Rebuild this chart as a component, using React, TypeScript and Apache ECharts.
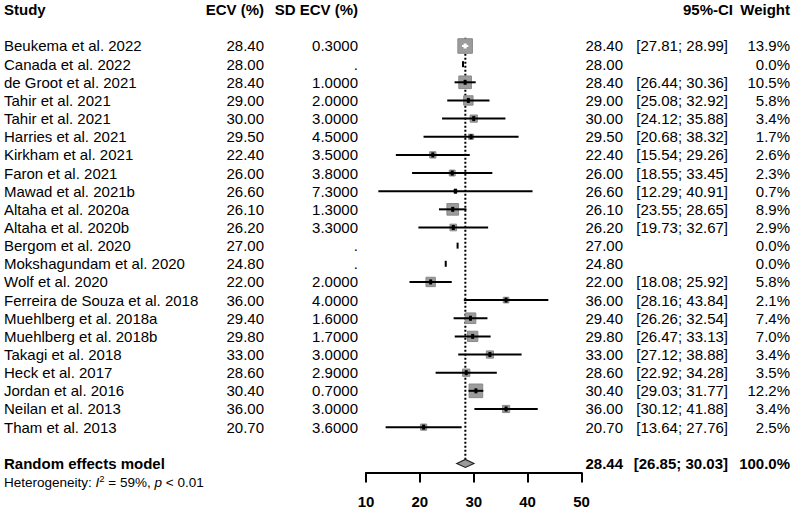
import React, { useEffect, useRef } from 'react';
import * as echarts from 'echarts';

// ---------- data ----------
const studies = [
  'Beukema et al. 2022', 'Canada et al. 2022', 'de Groot et al. 2021', 'Tahir et al. 2021',
  'Tahir et al. 2021', 'Harries et al. 2021', 'Kirkham et al. 2021', 'Faron et al. 2021',
  'Mawad et al. 2021b', 'Altaha et al. 2020a', 'Altaha et al. 2020b', 'Bergom et al. 2020',
  'Mokshagundam et al. 2020', 'Wolf et al. 2020', 'Ferreira de Souza et al. 2018',
  'Muehlberg et al. 2018a', 'Muehlberg et al. 2018b', 'Takagi et al. 2018', 'Heck et al. 2017',
  'Jordan et al. 2016', 'Neilan et al. 2013', 'Tham et al. 2013',
];
const ecv = [28.4, 28.0, 28.4, 29.0, 30.0, 29.5, 22.4, 26.0, 26.6, 26.1, 26.2, 27.0, 24.8, 22.0, 36.0, 29.4, 29.8, 33.0, 28.6, 30.4, 36.0, 20.7];
const sdEcv: (number | null)[] = [0.3, null, 1.0, 2.0, 3.0, 4.5, 3.5, 3.8, 7.3, 1.3, 3.3, null, null, 2.0, 4.0, 1.6, 1.7, 3.0, 2.9, 0.7, 3.0, 3.6];
const ciLow: (number | null)[] = [27.81, null, 26.44, 25.08, 24.12, 20.68, 15.54, 18.55, 12.29, 23.55, 19.73, null, null, 18.08, 28.16, 26.26, 26.47, 27.12, 22.92, 29.03, 30.12, 13.64];
const ciHigh: (number | null)[] = [28.99, null, 30.36, 32.92, 35.88, 38.32, 29.26, 33.45, 40.91, 28.65, 32.67, null, null, 25.92, 43.84, 32.54, 33.13, 38.88, 34.28, 31.77, 41.88, 27.76];
const weights = [13.9, 0.0, 10.5, 5.8, 3.4, 1.7, 2.6, 2.3, 0.7, 8.9, 2.9, 0.0, 0.0, 5.8, 2.1, 7.4, 7.0, 3.4, 3.5, 12.2, 3.4, 2.5];

const pooledLabel = 'Random effects model';
const pooledEst = 28.44;
const pooledLow = 26.85;
const pooledHigh = 30.03;
const pooledWeight = 100.0;
const hetI2 = 59;
const hetP = '< 0.01';

const headers = ['Study', 'ECV (%)', 'SD ECV (%)', '95%-CI', 'Weight'];
const xTicks = [10, 20, 30, 40, 50];

// ---------- layout ----------
const FONT = '"Liberation Sans", Arial, Helvetica, sans-serif';
const FS = 15;
const FIRST_ROW = 0;
const POOLED_ROW = studies.length + 1; // one blank row
const HET_ROW = POOLED_ROW + 1;
const HEADER_ROW = -2;

const COL = {
  study: 4,
  ecvR: 264,
  sdR: 358,
  teR: 623,
  ciR: 728,
  ciHeadR: 733,
  wR: 790,
};

const fmt2 = (v: number) => v.toFixed(2);

function txt(x: number, y: number, text: string, align: string, bold = false, size = FS) {
  return {
    type: 'text',
    x,
    y,
    style: {
      text,
      fill: '#000',
      fontFamily: FONT,
      fontSize: size,
      fontWeight: bold ? 'bold' : 'normal',
      align,
      verticalAlign: 'middle',
    },
  };
}

export default function App() {
  const ref = useRef<HTMLDivElement>(null);

  useEffect(() => {
    if (!ref.current) return;
    const chart = echarts.init(ref.current, null, { renderer: 'svg' });

    const forestData = studies.map((_, i) => {
      const has = ciLow[i] != null ? 1 : 0;
      return [i, ecv[i], ciLow[i] ?? ecv[i], ciHigh[i] ?? ecv[i], weights[i], has];
    });

    const tableData: number[][] = [[HEADER_ROW, 0, 0]];
    studies.forEach((_, i) => tableData.push([i + FIRST_ROW, 1, i]));
    tableData.push([POOLED_ROW, 2, 0]);
    tableData.push([HET_ROW, 3, 0]);

    const option: any = {
      animation: false,
      grid: { left: 366, right: 211.5, top: 9.7, bottom: 37.5, containLabel: false },
      xAxis: {
        type: 'value',
        min: 10,
        max: 50,
        interval: 10,
        splitLine: { show: false },
        axisLine: { show: true, onZero: false, lineStyle: { color: '#000', width: 2 } },
        axisTick: { show: true, inside: false, length: 10, lineStyle: { color: '#000', width: 2 } },
        axisLabel: {
          margin: 21,
          color: '#000',
          fontFamily: FONT,
          fontSize: 15,
          fontWeight: 'bold',
          formatter: (v: number) => (xTicks.includes(v) ? String(v) : ''),
        },
      },
      yAxis: {
        type: 'value',
        inverse: true,
        min: -2,
        max: 23.5,
        show: false,
      },
      series: [
        // dotted line + pooled diamond
        {
          type: 'custom',
          clip: false,
          data: [[POOLED_ROW, pooledEst, pooledLow, pooledHigh]],
          encode: { x: [1, 2, 3], y: 0 },
          renderItem: (params: any, api: any) => {
            const r = api.value(0);
            const c = api.coord([api.value(1), r]);
            const l = api.coord([api.value(2), r]);
            const h = api.coord([api.value(3), r]);
            const top = api.coord([api.value(1), FIRST_ROW - 0.45]);
            const hh = 4;
            return {
              type: 'group',
              children: [
                {
                  type: 'line',
                  shape: { x1: top[0], y1: top[1], x2: c[0], y2: c[1] - hh },
                  style: { stroke: '#000', lineWidth: 2, lineDash: [2, 2] },
                  z2: 0,
                },
                {
                  type: 'polygon',
                  shape: { points: [[l[0], c[1]], [c[0], c[1] - hh], [h[0], c[1]], [c[0], c[1] + hh]] },
                  style: { fill: '#9a9a9a', stroke: '#222', lineWidth: 1.2 },
                  z2: 5,
                },
              ],
            };
          },
          z: 1,
        },
        // study estimates
        {
          type: 'custom',
          clip: false,
          data: forestData,
          encode: { x: [1, 2, 3], y: 0 },
          renderItem: (params: any, api: any) => {
            const r = api.value(0);
            const est = api.value(1);
            const has = api.value(5);
            const p = api.coord([est, r]);
            if (!has) {
              return {
                type: 'rect',
                shape: { x: p[0] - 1, y: p[1] - 3, width: 2, height: 6 },
                style: { fill: '#000' },
              };
            }
            const l = api.coord([api.value(2), r]);
            const h = api.coord([api.value(3), r]);
            const side = 3.9 * Math.sqrt(api.value(4));
            const inside = h[0] - l[0] < side;
            const lineColor = inside ? '#fff' : '#000';
            return {
              type: 'group',
              children: [
                {
                  type: 'rect',
                  shape: { x: p[0] - side / 2, y: p[1] - side / 2, width: side, height: side },
                  style: { fill: '#9c9c9c', stroke: '#8a8a8a', lineWidth: 1 },
                },
                {
                  type: 'line',
                  shape: { x1: l[0], y1: p[1], x2: h[0], y2: p[1] },
                  style: { stroke: lineColor, lineWidth: 2 },
                },
                {
                  type: 'rect',
                  shape: { x: p[0] - 1.5, y: p[1] - 2.5, width: 3, height: 5 },
                  style: { fill: lineColor },
                },
              ],
            };
          },
          z: 3,
        },
        // table text
        {
          type: 'custom',
          clip: false,
          data: tableData,
          encode: { y: 0 },
          renderItem: (params: any, api: any) => {
            const r = api.value(0);
            const kind = api.value(1);
            const i = api.value(2);
            const y = api.coord([10, r])[1];
            if (kind === 0) {
              return {
                type: 'group',
                children: [
                  txt(COL.study, y, headers[0], 'left', true),
                  txt(COL.ecvR, y, headers[1], 'right', true),
                  txt(COL.sdR, y, headers[2], 'right', true),
                  txt(COL.ciHeadR, y, headers[3], 'right', true),
                  txt(COL.wR, y, headers[4], 'right', true),
                ],
              };
            }
            if (kind === 1) {
              const sd = sdEcv[i];
              const lo = ciLow[i];
              const hi = ciHigh[i];
              const children: any[] = [
                txt(COL.study, y, studies[i], 'left'),
                txt(COL.ecvR, y, fmt2(ecv[i]), 'right'),
                txt(COL.sdR, y, sd == null ? '.' : sd.toFixed(4), 'right'),
                txt(COL.teR, y, fmt2(ecv[i]), 'right'),
                txt(COL.wR, y, weights[i].toFixed(1) + '%', 'right'),
              ];
              if (lo != null && hi != null) {
                children.push(txt(COL.ciR, y, `[${fmt2(lo)}; ${fmt2(hi)}]`, 'right'));
              }
              return { type: 'group', children };
            }
            if (kind === 2) {
              return {
                type: 'group',
                children: [
                  txt(COL.study, y, pooledLabel, 'left', true),
                  txt(COL.teR, y, fmt2(pooledEst), 'right', true),
                  txt(COL.ciR, y, `[${fmt2(pooledLow)}; ${fmt2(pooledHigh)}]`, 'right', true),
                  txt(COL.wR, y, pooledWeight.toFixed(1) + '%', 'right', true),
                ],
              };
            }
            return {
              type: 'text',
              x: COL.study,
              y,
              style: {
                text: `{n|Heterogeneity: }{i|I}{s|2}{n| = ${hetI2}%, }{i|p}{n| ${hetP}}`,
                fill: '#000',
                fontFamily: FONT,
                fontSize: 13.5,
                align: 'left',
                verticalAlign: 'middle',
                rich: {
                  n: { fontFamily: FONT, fontSize: 13.5, lineHeight: 16, fill: '#000', verticalAlign: 'bottom' },
                  i: { fontFamily: FONT, fontSize: 13.5, lineHeight: 16, fontStyle: 'italic', fill: '#000', verticalAlign: 'bottom' },
                  s: { fontFamily: FONT, fontSize: 9.5, lineHeight: 16, fill: '#000', verticalAlign: 'top' },
                },
              },
            };
          },
          z: 4,
        },
      ],
    };

    chart.setOption(option);
    return () => chart.dispose();
  }, []);

  return (
    <div
      ref={ref}
      style={{ position: 'absolute', left: 0, top: 0, width: 793, height: 510, background: '#fff' }}
    />
  );
}
